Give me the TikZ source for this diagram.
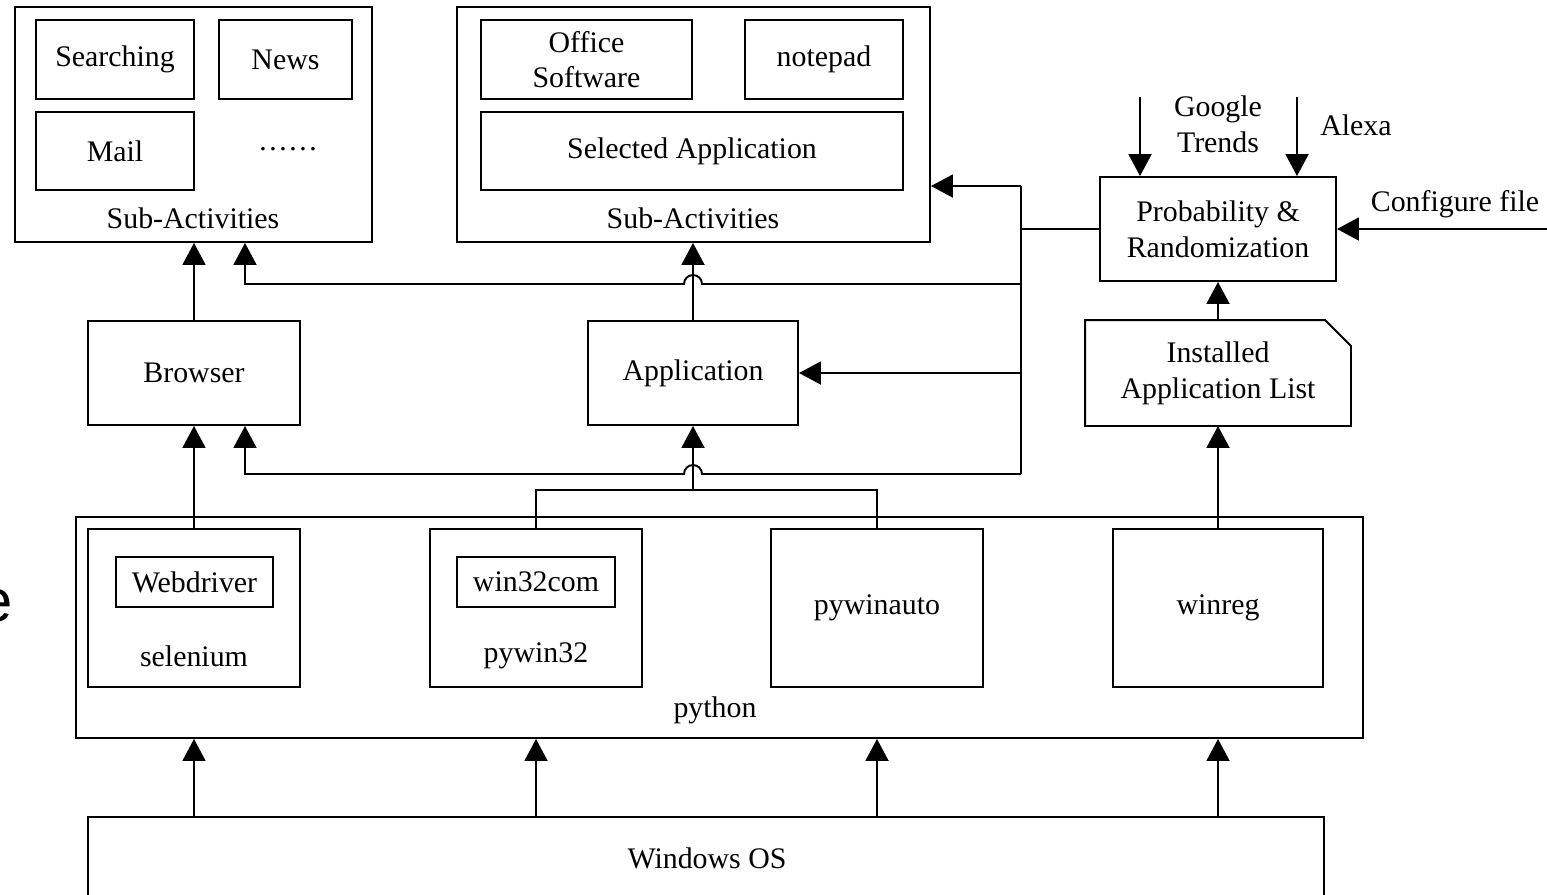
\documentclass[tikz,border=0pt]{standalone}
\usepackage{fontspec}
\setmainfont{Liberation Serif}
\newfontfamily\sansfont{Liberation Sans}
\usetikzlibrary{positioning,fit,calc,arrows.meta}

\begin{document}
\begin{tikzpicture}[x=0.02cm,y=-0.02cm,
            line width=1.1pt,
            font=\fontsize{17}{20.3}\selectfont,
            blk/.style={draw, inner sep=0pt},
            lbl/.style={inner sep=0pt, align=center},
            every label/.style={inner sep=0pt, align=center},
            arr/.style={-{Triangle[length=0.44cm,width=0.46cm]}}]
            \useasboundingbox (0,0) rectangle (1547,894);

            % sub-activities (browser)
            \node[blk, fit={(15,7)(372,242)}] (web) {};
            \node[blk, fit={(36,20)(194,99)}, label=center:Searching] (search) {};
            \node[blk, fit={(219,20)(352,99)}, label=center:News] (news) {};
            \node[blk, fit={(36,112)(194,190)}, label=center:Mail] (mail) {};
            \node[lbl] (more) at (288,149) {……};
            \node[lbl] (sub1) at (193,218) {Sub-Activities};

            % sub-activities (application)
            \node[blk, fit={(457,7)(930,242)}] (appacts) {};
            \node[blk, fit={(481,20)(692,99)}, label={center:Office\\Software}] (office) {};
            \node[blk, fit={(745,20)(903,99)}, label=center:notepad] (notepad) {};
            \node[blk, fit={(481,112)(903,190)}, label=center:Selected Application] (selapp) {};
            \node[lbl] (sub2) at (693,218) {Sub-Activities};

            % probability
            \node[blk, fit={(1100,177)(1336,281)}, label={center:Probability \&\\Randomization}] (prob) {};
            \node[lbl] (gtext) at (1218,124) {Google\\Trends};
            \node[lbl] (alexa) at (1356,125) {Alexa};
            \node[lbl] (conf) at (1455,204) {Configure file};
            \coordinate (gsrc) at (1140,97);
            \coordinate (asrc) at (1297,97);
            \coordinate (csrc) at (1547,229);

            % middle row
            \node[blk, fit={(88,321)(300,425)}, label=center:Browser] (browser) {};
            \node[blk, fit={(588,321)(798,425)}, label=center:Application] (app) {};
            \node[inner sep=0pt, fit={(1086,321)(1350,425)}, label={center:Installed\\Application List}] (inst) {};
            \draw (inst.south west) -- (inst.north west) -- ([xshift=-0.52cm]inst.north east)
                -- ([yshift=-0.52cm]inst.north east) -- (inst.south east) -- cycle;

            % python
            \node[blk, fit={(76,517)(1363,738)}] (python) {};
            \node[lbl] (pylbl) at (715,710) {python};
            \node[blk, fit={(88,529)(300,687)}] (selenium) {};
            \node[blk, fit={(116,557)(273,607)}, label=center:Webdriver] (webdriver) {};
            \node[lbl] (sellbl) at (194,656) {selenium};
            \node[blk, fit={(430,529)(642,687)}] (pywin32) {};
            \node[blk, fit={(457,557)(615,607)}, label=center:win32com] (win32com) {};
            \node[lbl] (pwlbl) at (536,656) {pywin32};
            \node[blk, fit={(771,529)(983,687)}, label=center:pywinauto] (pywinauto) {};
            \node[blk, fit={(1113,529)(1323,687)}, label=center:winreg] (winreg) {};

            % windows
            \node[blk, fit={(88,817)(1324,900)}] (winos) {};
            \node[lbl] (winlbl) at (707,858) {Windows OS};

            \node[inner sep=0pt, anchor=base east, font=\sansfont\fontsize{34}{40}\selectfont] (cut) at (14,621) {e};

            % helper coordinates
            \coordinate (side) at (245,0);
            \coordinate (upline) at (0,284);
            \coordinate (lowline) at (0,474);
            \coordinate (busT) at (1021,186);
            \coordinate (busB) at (1021,474);
            \coordinate (hopU) at (app.north |- upline);
            \coordinate (hopL) at (app.south |- lowline);
            \coordinate (join) at (app.south |- 0,490);

            % connectors
            \draw[arr] (browser.north) -- (web.south -| browser.north);
            \draw[arr] (app.north) -- (appacts.south -| app.north);
            \draw (busT) -- (busB);
            \draw (prob.west) -- (prob.west -| busT);
            \draw[arr] (busT) -- (busT -| appacts.east);
            \draw[arr] (busB |- app.east) -- (app.east);
            \draw[arr] (busT |- upline) -- ([xshift=0.18cm]hopU) arc[start angle=0, end angle=180, radius=0.18cm]
                -- (side |- upline) -- (side |- web.south);
            \draw[arr] (busB) -- ([xshift=0.18cm]hopL) arc[start angle=0, end angle=180, radius=0.18cm]
                -- (side |- lowline) -- (side |- browser.south);
            \draw (pywin32.north) -- (pywin32.north |- join) -- (pywinauto.north |- join) -- (pywinauto.north);
            \draw[arr] (join) -- (app.south);
            \draw[arr] (selenium.north) -- (browser.south);
            \draw[arr] (winreg.north) -- (inst.south);
            \draw[arr] (inst.north) -- (prob.south);
            \draw[arr] (gsrc) -- (gsrc |- prob.north);
            \draw[arr] (asrc) -- (asrc |- prob.north);
            \draw[arr] (csrc) -- (prob.east);
            \foreach \n in {selenium,pywin32,pywinauto,winreg}
                \draw[arr] (winos.north -| \n.north) -- (python.south -| \n.north);
\end{tikzpicture}
\end{document}
